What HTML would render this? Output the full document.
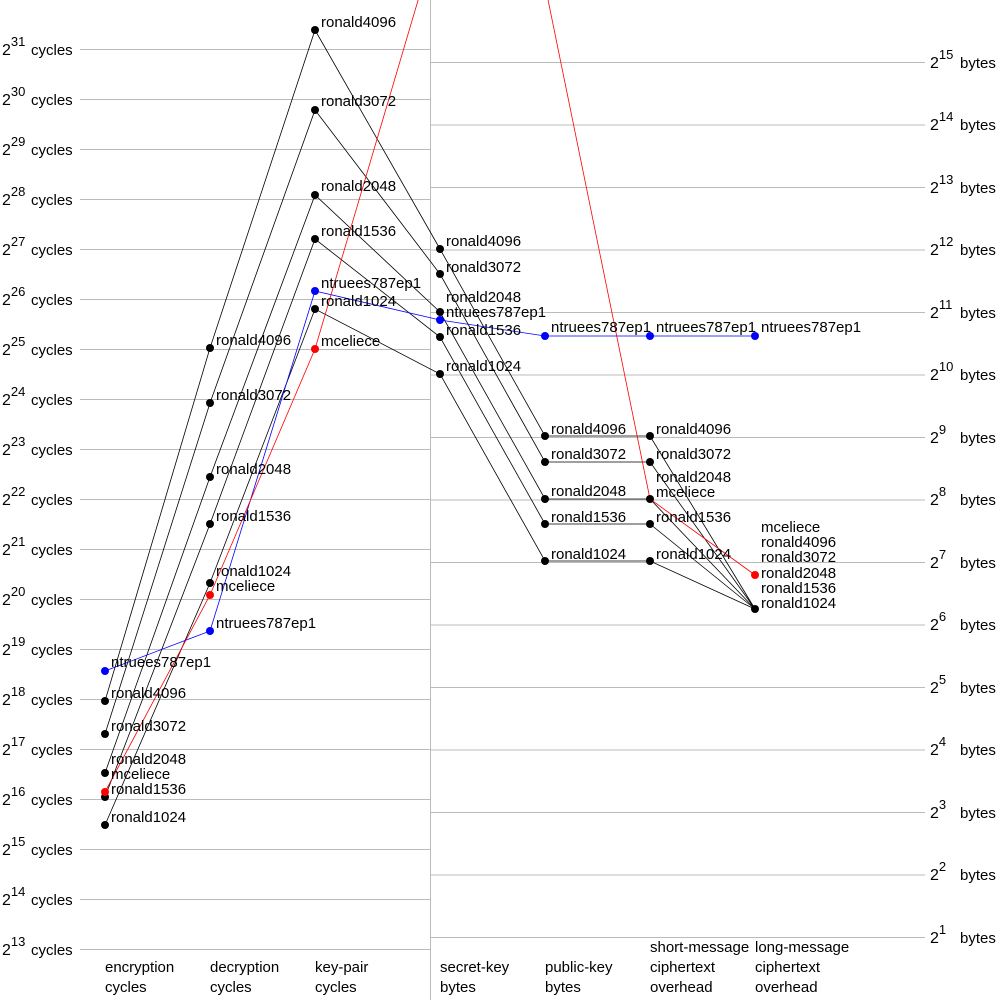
<!DOCTYPE html>
<html><head><meta charset="utf-8"><style>
html,body{margin:0;padding:0;background:#fff}
svg{display:block;font-family:"Liberation Sans",sans-serif}
text{font-size:15px;fill:#000}
.ax{font-size:16px}
.s{font-size:13px}
.u{font-size:15px}
</style></head><body>
<svg width="1000" height="1000" viewBox="0 0 1000 1000" xmlns="http://www.w3.org/2000/svg">
<g stroke="#bbb" stroke-width="1">
<line x1="430.5" y1="0" x2="430.5" y2="1000"/>
<line x1="80" y1="49.5" x2="430" y2="49.5"/><line x1="80" y1="99.5" x2="430" y2="99.5"/><line x1="80" y1="149.5" x2="430" y2="149.5"/><line x1="80" y1="199.5" x2="430" y2="199.5"/><line x1="80" y1="249.5" x2="430" y2="249.5"/><line x1="80" y1="299.5" x2="430" y2="299.5"/><line x1="80" y1="349.5" x2="430" y2="349.5"/><line x1="80" y1="399.5" x2="430" y2="399.5"/><line x1="80" y1="449.5" x2="430" y2="449.5"/><line x1="80" y1="499.5" x2="430" y2="499.5"/><line x1="80" y1="549.5" x2="430" y2="549.5"/><line x1="80" y1="599.5" x2="430" y2="599.5"/><line x1="80" y1="649.5" x2="430" y2="649.5"/><line x1="80" y1="699.5" x2="430" y2="699.5"/><line x1="80" y1="749.5" x2="430" y2="749.5"/><line x1="80" y1="799.5" x2="430" y2="799.5"/><line x1="80" y1="849.5" x2="430" y2="849.5"/><line x1="80" y1="899.5" x2="430" y2="899.5"/><line x1="80" y1="949.5" x2="430" y2="949.5"/>
<line x1="430" y1="62.5" x2="925" y2="62.5"/><line x1="430" y1="125" x2="925" y2="125"/><line x1="430" y1="187.5" x2="925" y2="187.5"/><line x1="430" y1="250" x2="925" y2="250"/><line x1="430" y1="312.5" x2="925" y2="312.5"/><line x1="430" y1="375" x2="925" y2="375"/><line x1="430" y1="437.5" x2="925" y2="437.5"/><line x1="430" y1="500" x2="925" y2="500"/><line x1="430" y1="562.5" x2="925" y2="562.5"/><line x1="430" y1="625" x2="925" y2="625"/><line x1="430" y1="687.5" x2="925" y2="687.5"/><line x1="430" y1="750" x2="925" y2="750"/><line x1="430" y1="812.5" x2="925" y2="812.5"/><line x1="430" y1="875" x2="925" y2="875"/><line x1="430" y1="937.5" x2="925" y2="937.5"/>
</g>
<g class="ax">
<text class="ax" x="2" y="55">2<tspan class="s" dy="-9">31</tspan><tspan class="u" dy="9" x="31">cycles</tspan></text>
<text class="ax" x="2" y="105">2<tspan class="s" dy="-9">30</tspan><tspan class="u" dy="9" x="31">cycles</tspan></text>
<text class="ax" x="2" y="155">2<tspan class="s" dy="-9">29</tspan><tspan class="u" dy="9" x="31">cycles</tspan></text>
<text class="ax" x="2" y="205">2<tspan class="s" dy="-9">28</tspan><tspan class="u" dy="9" x="31">cycles</tspan></text>
<text class="ax" x="2" y="255">2<tspan class="s" dy="-9">27</tspan><tspan class="u" dy="9" x="31">cycles</tspan></text>
<text class="ax" x="2" y="305">2<tspan class="s" dy="-9">26</tspan><tspan class="u" dy="9" x="31">cycles</tspan></text>
<text class="ax" x="2" y="355">2<tspan class="s" dy="-9">25</tspan><tspan class="u" dy="9" x="31">cycles</tspan></text>
<text class="ax" x="2" y="405">2<tspan class="s" dy="-9">24</tspan><tspan class="u" dy="9" x="31">cycles</tspan></text>
<text class="ax" x="2" y="455">2<tspan class="s" dy="-9">23</tspan><tspan class="u" dy="9" x="31">cycles</tspan></text>
<text class="ax" x="2" y="505">2<tspan class="s" dy="-9">22</tspan><tspan class="u" dy="9" x="31">cycles</tspan></text>
<text class="ax" x="2" y="555">2<tspan class="s" dy="-9">21</tspan><tspan class="u" dy="9" x="31">cycles</tspan></text>
<text class="ax" x="2" y="605">2<tspan class="s" dy="-9">20</tspan><tspan class="u" dy="9" x="31">cycles</tspan></text>
<text class="ax" x="2" y="655">2<tspan class="s" dy="-9">19</tspan><tspan class="u" dy="9" x="31">cycles</tspan></text>
<text class="ax" x="2" y="705">2<tspan class="s" dy="-9">18</tspan><tspan class="u" dy="9" x="31">cycles</tspan></text>
<text class="ax" x="2" y="755">2<tspan class="s" dy="-9">17</tspan><tspan class="u" dy="9" x="31">cycles</tspan></text>
<text class="ax" x="2" y="805">2<tspan class="s" dy="-9">16</tspan><tspan class="u" dy="9" x="31">cycles</tspan></text>
<text class="ax" x="2" y="855">2<tspan class="s" dy="-9">15</tspan><tspan class="u" dy="9" x="31">cycles</tspan></text>
<text class="ax" x="2" y="905">2<tspan class="s" dy="-9">14</tspan><tspan class="u" dy="9" x="31">cycles</tspan></text>
<text class="ax" x="2" y="955">2<tspan class="s" dy="-9">13</tspan><tspan class="u" dy="9" x="31">cycles</tspan></text>
<text class="ax" x="930" y="68">2<tspan class="s" dy="-9">15</tspan><tspan class="u" dy="9" x="960">bytes</tspan></text>
<text class="ax" x="930" y="130">2<tspan class="s" dy="-9">14</tspan><tspan class="u" dy="9" x="960">bytes</tspan></text>
<text class="ax" x="930" y="193">2<tspan class="s" dy="-9">13</tspan><tspan class="u" dy="9" x="960">bytes</tspan></text>
<text class="ax" x="930" y="255">2<tspan class="s" dy="-9">12</tspan><tspan class="u" dy="9" x="960">bytes</tspan></text>
<text class="ax" x="930" y="318">2<tspan class="s" dy="-9">11</tspan><tspan class="u" dy="9" x="960">bytes</tspan></text>
<text class="ax" x="930" y="380">2<tspan class="s" dy="-9">10</tspan><tspan class="u" dy="9" x="960">bytes</tspan></text>
<text class="ax" x="930" y="443">2<tspan class="s" dy="-9">9</tspan><tspan class="u" dy="9" x="960">bytes</tspan></text>
<text class="ax" x="930" y="505">2<tspan class="s" dy="-9">8</tspan><tspan class="u" dy="9" x="960">bytes</tspan></text>
<text class="ax" x="930" y="568">2<tspan class="s" dy="-9">7</tspan><tspan class="u" dy="9" x="960">bytes</tspan></text>
<text class="ax" x="930" y="630">2<tspan class="s" dy="-9">6</tspan><tspan class="u" dy="9" x="960">bytes</tspan></text>
<text class="ax" x="930" y="693">2<tspan class="s" dy="-9">5</tspan><tspan class="u" dy="9" x="960">bytes</tspan></text>
<text class="ax" x="930" y="755">2<tspan class="s" dy="-9">4</tspan><tspan class="u" dy="9" x="960">bytes</tspan></text>
<text class="ax" x="930" y="818">2<tspan class="s" dy="-9">3</tspan><tspan class="u" dy="9" x="960">bytes</tspan></text>
<text class="ax" x="930" y="880">2<tspan class="s" dy="-9">2</tspan><tspan class="u" dy="9" x="960">bytes</tspan></text>
<text class="ax" x="930" y="943">2<tspan class="s" dy="-9">1</tspan><tspan class="u" dy="9" x="960">bytes</tspan></text>
</g>
<g fill="none" stroke-width="0.8">
<polyline stroke="#000" points="105,701 210,348 315,30 440,249 545,436 650,436 755,609"/>
<polyline stroke="#000" points="105,734 210,403 315,110 440,274 545,462 650,462 755,609"/>
<polyline stroke="#000" points="105,773 210,477 315,195 440,312 545,499 650,499 755,609"/>
<polyline stroke="#000" points="105,797 210,524 315,239 440,337 545,524 650,524 755,609"/>
<polyline stroke="#000" points="105,825 210,583 315,309 440,374 545,561 650,561 755,609"/>
<polyline stroke="#00f" points="105,671 210,631 315,291 440,320 545,336 650,336 755,336"/>
<polyline stroke="#f00" points="105,792 210,595 315,349 440,-74"/>
<polyline stroke="#f00" points="545,-15 650,499 755,575"/>
</g>
<g>
<circle cx="105" cy="671" r="4" fill="#00f"/><circle cx="105" cy="701" r="4"/><circle cx="105" cy="734" r="4"/><circle cx="105" cy="773" r="4"/><circle cx="105" cy="797" r="4"/><circle cx="105" cy="825" r="4"/><circle cx="105" cy="792" r="4" fill="#f00"/>
<circle cx="210" cy="348" r="4"/><circle cx="210" cy="403" r="4"/><circle cx="210" cy="477" r="4"/><circle cx="210" cy="524" r="4"/><circle cx="210" cy="583" r="4"/><circle cx="210" cy="595" r="4" fill="#f00"/><circle cx="210" cy="631" r="4" fill="#00f"/>
<circle cx="315" cy="30" r="4"/><circle cx="315" cy="110" r="4"/><circle cx="315" cy="195" r="4"/><circle cx="315" cy="239" r="4"/><circle cx="315" cy="291" r="4" fill="#00f"/><circle cx="315" cy="309" r="4"/><circle cx="315" cy="349" r="4" fill="#f00"/>
<circle cx="440" cy="249" r="4"/><circle cx="440" cy="274" r="4"/><circle cx="440" cy="312" r="4"/><circle cx="440" cy="320" r="4" fill="#00f"/><circle cx="440" cy="337" r="4"/><circle cx="440" cy="374" r="4"/>
<circle cx="545" cy="336" r="4" fill="#00f"/><circle cx="545" cy="436" r="4"/><circle cx="545" cy="462" r="4"/><circle cx="545" cy="499" r="4"/><circle cx="545" cy="524" r="4"/><circle cx="545" cy="561" r="4"/>
<circle cx="650" cy="336" r="4" fill="#00f"/><circle cx="650" cy="436" r="4"/><circle cx="650" cy="462" r="4"/><circle cx="650" cy="499" r="4"/><circle cx="650" cy="524" r="4"/><circle cx="650" cy="561" r="4"/>
<circle cx="755" cy="336" r="4" fill="#00f"/><circle cx="755" cy="575" r="4" fill="#f00"/><circle cx="755" cy="609" r="4"/>
</g>
<g dominant-baseline="middle">
<text x="111" y="663">ntruees787ep1</text><text x="111" y="694">ronald4096</text><text x="111" y="727">ronald3072</text><text x="111" y="760">ronald2048</text><text x="111" y="775">mceliece</text><text x="111" y="790">ronald1536</text><text x="111" y="818">ronald1024</text>
<text x="216" y="341">ronald4096</text><text x="216" y="396">ronald3072</text><text x="216" y="470">ronald2048</text><text x="216" y="517">ronald1536</text><text x="216" y="572">ronald1024</text><text x="216" y="587">mceliece</text><text x="216" y="624">ntruees787ep1</text>
<text x="321" y="23">ronald4096</text><text x="321" y="102">ronald3072</text><text x="321" y="187">ronald2048</text><text x="321" y="232">ronald1536</text><text x="321" y="284">ntruees787ep1</text><text x="321" y="302">ronald1024</text><text x="321" y="342">mceliece</text>
<text x="446" y="242">ronald4096</text><text x="446" y="268">ronald3072</text><text x="446" y="298">ronald2048</text><text x="446" y="313">ntruees787ep1</text><text x="446" y="331">ronald1536</text><text x="446" y="367">ronald1024</text>
<text x="551" y="328">ntruees787ep1</text><text x="551" y="430">ronald4096</text><text x="551" y="455">ronald3072</text><text x="551" y="492">ronald2048</text><text x="551" y="518">ronald1536</text><text x="551" y="555">ronald1024</text>
<text x="656" y="328">ntruees787ep1</text><text x="656" y="430">ronald4096</text><text x="656" y="455">ronald3072</text><text x="656" y="478">ronald2048</text><text x="656" y="493">mceliece</text><text x="656" y="518">ronald1536</text><text x="656" y="555">ronald1024</text>
<text x="761" y="328">ntruees787ep1</text><text x="761" y="528">mceliece</text><text x="761" y="543">ronald4096</text><text x="761" y="558">ronald3072</text><text x="761" y="574">ronald2048</text><text x="761" y="589">ronald1536</text><text x="761" y="604">ronald1024</text>
<text x="105" y="968">encryption</text><text x="105" y="988">cycles</text>
<text x="210" y="968">decryption</text><text x="210" y="988">cycles</text>
<text x="315" y="968">key-pair</text><text x="315" y="988">cycles</text>
<text x="440" y="968">secret-key</text><text x="440" y="988">bytes</text>
<text x="545" y="968">public-key</text><text x="545" y="988">bytes</text>
<text x="650" y="948">short-message</text><text x="650" y="968">ciphertext</text><text x="650" y="988">overhead</text>
<text x="755" y="948">long-message</text><text x="755" y="968">ciphertext</text><text x="755" y="988">overhead</text>
</g>
</svg>
</body></html>
